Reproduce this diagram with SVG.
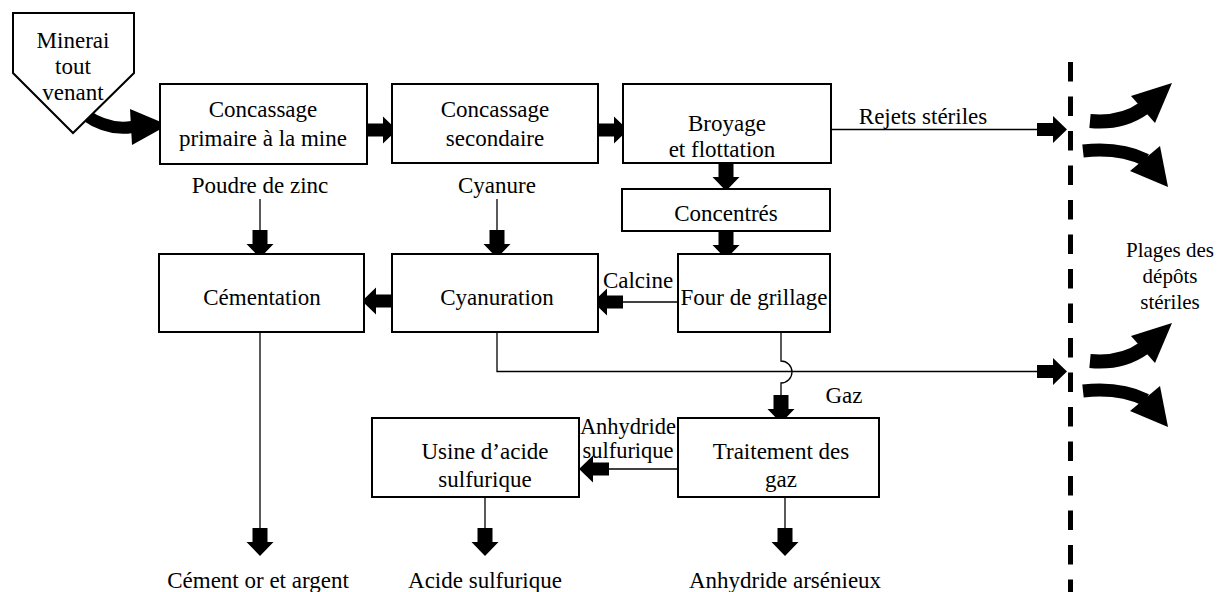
<svg xmlns="http://www.w3.org/2000/svg" width="1227" height="592" viewBox="0 0 1227 592">
<style>
.box{fill:#fff;stroke:#000;stroke-width:2}
.ln{fill:none;stroke:#000;stroke-width:1.3}
.ba{fill:#000;stroke:none}
.t{font-family:"Liberation Serif","Times New Roman",serif;font-size:23px;fill:#000;text-anchor:middle}
.s{font-size:22.5px}
.p{font-size:21px}
</style>
<defs>
<polygon id="ar" points="0,-6.5 16,-6.5 16,-13.5 30,0 16,13.5 16,6.5 0,6.5"/>
<polygon id="ad" points="-7.5,0 7.5,0 7.5,14 13.5,14 0,28 -13.5,14 -7.5,14"/>
<g id="spread">
<path d="M1090,121 Q1122,124 1144,108" fill="none" stroke="#000" stroke-width="14"/>
<polygon points="1131,96 1172,83 1155,123"/>
<path d="M1083,151 Q1120,147 1146,160" fill="none" stroke="#000" stroke-width="13"/>
<polygon points="1130,171 1168,187 1160,146"/>
</g>
</defs>
<g id="connectors">
<path d="M84,114 Q108,131 132,127" fill="none" stroke="#000" stroke-width="12"/>
<polygon class="ba" points="130,109 168,125 132,145"/>
<use href="#ar" x="367" y="130"/>
<use href="#ar" x="598" y="130"/>
<line class="ln" x1="831" y1="129.5" x2="1037" y2="129.5"/>
<use href="#ar" x="1037" y="129.5"/>
<use href="#ad" x="726" y="163"/>
<use href="#ad" x="726" y="231"/>
<line class="ln" x1="260" y1="199" x2="260" y2="230"/>
<use href="#ad" x="260" y="230"/>
<line class="ln" x1="497" y1="199" x2="497" y2="230"/>
<use href="#ad" x="497" y="230"/>
<line class="ln" x1="677" y1="302" x2="623" y2="302"/>
<use href="#ar" transform="translate(623,302) scale(-1,1)"/>
<use href="#ar" transform="translate(392,301) scale(-1,1)"/>
<path class="ln" d="M497,332 V371.5 H1037"/>
<use href="#ar" x="1037" y="371.5"/>
<path class="ln" d="M781,332 V361 A11,11 0 0 1 781,383 V395"/>
<use href="#ad" x="781" y="395"/>
<line class="ln" x1="678" y1="469" x2="609" y2="469"/>
<use href="#ar" transform="translate(609,469) scale(-1,1)"/>
<line class="ln" x1="260" y1="332" x2="260" y2="528"/>
<use href="#ad" x="260" y="528"/>
<line class="ln" x1="485" y1="497" x2="485" y2="528"/>
<use href="#ad" x="485" y="528"/>
<line class="ln" x1="785" y1="497" x2="785" y2="528"/>
<use href="#ad" x="785" y="528"/>
<line x1="1070.5" y1="62" x2="1070.5" y2="592" stroke="#000" stroke-width="5" stroke-dasharray="19.5 15"/>
<use href="#spread"/>
<use href="#spread" y="240"/>
</g>
<g id="minerai">
<polygon class="box" points="13,13 134,13 134,73 73,133 13,73"/>
<text class="t" x="73" y="48">Minerai</text>
<text class="t" x="73" y="74">tout</text>
<text class="t" x="73" y="100">venant</text>
</g>
<g id="concassage-primaire">
<rect class="box" x="160" y="84" width="207" height="80"/>
<text class="t" x="263" y="117">Concassage</text>
<text class="t" x="263" y="146">primaire à la mine</text>
</g>
<g id="concassage-secondaire">
<rect class="box" x="392" y="84" width="206" height="79"/>
<text class="t" x="495" y="117">Concassage</text>
<text class="t" x="495" y="146">secondaire</text>
</g>
<g id="broyage">
<rect class="box" x="623" y="84" width="208" height="79"/>
<text class="t" x="727" y="131">Broyage</text>
<text class="t" x="722" y="157">et flottation</text>
</g>
<g id="concentres">
<rect class="box" x="622" y="189" width="208" height="42"/>
<text class="t" x="726" y="221">Concentrés</text>
</g>
<g id="four">
<rect class="box" x="678" y="254" width="152" height="78"/>
<text class="t" x="754" y="305">Four de grillage</text>
</g>
<g id="cyanuration">
<rect class="box" x="392" y="254" width="206" height="78"/>
<text class="t" x="497" y="305">Cyanuration</text>
</g>
<g id="cementation">
<rect class="box" x="159" y="254" width="205" height="78"/>
<text class="t" x="262" y="305">Cémentation</text>
</g>
<g id="traitement">
<rect class="box" x="678" y="418" width="201" height="79"/>
<text class="t" x="781" y="459">Traitement des</text>
<text class="t" x="781" y="487">gaz</text>
</g>
<g id="usine">
<rect class="box" x="372" y="418" width="207" height="79"/>
<text class="t" x="485" y="459">Usine d’acide</text>
<text class="t" x="485" y="487">sulfurique</text>
</g>
<g id="labels">
<text class="t" x="260" y="193">Poudre de zinc</text>
<text class="t" x="497" y="193">Cyanure</text>
<text class="t" x="923" y="124">Rejets stériles</text>
<text class="t" x="638" y="288">Calcine</text>
<text class="t" x="844" y="403">Gaz</text>
<text class="t s" x="628" y="434">Anhydride</text>
<text class="t s" x="628" y="458">sulfurique</text>
<text class="t" x="258" y="588">Cément or et argent</text>
<text class="t" x="485" y="588">Acide sulfurique</text>
<text class="t" x="785" y="588">Anhydride arsénieux</text>
<text class="t p" x="1170" y="257">Plages des</text>
<text class="t p" x="1170" y="283">dépôts</text>
<text class="t p" x="1170" y="309">stériles</text>
</g>
</svg>
